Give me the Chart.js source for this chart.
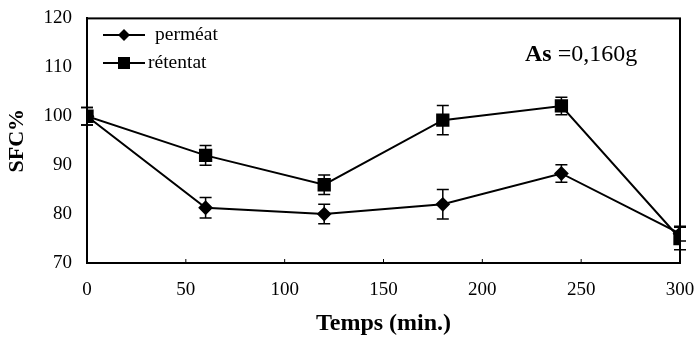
<!DOCTYPE html>
<html>
<head>
<meta charset="utf-8">
<script src="https://cdn.jsdelivr.net/npm/chart.js@4"></script>
<style>
  body { margin: 0; background: #fff; }
  #wrap { width: 696px; height: 342px; }
</style>
</head>
<body>
<div id="wrap"><canvas id="myChart"></canvas></div>
<script>
const times = [0, 60, 120, 180, 240, 300]
const permeat = [100, 81.3, 80, 82, 88.3, 76]
const permeatErr = [1.8, 2.1, 2, 3, 1.8, 1.5]
const retentat = [100, 92, 86, 99.2, 102.1, 75]
const retentatErr = [1.8, 2, 2, 3, 1.8, 2.3]
const xTicks = [0, 50, 100, 150, 200, 250, 300]

const serif = '"Liberation Serif", "DejaVu Serif", serif'

function points(xs, ys) {
  return xs.map((x, i) => ({ x: x, y: ys[i] }))
}

// error bars, frame, legend and annotation
const extras = {
  id: 'extras',
  afterDatasetsDraw(chart) {
    const ctx = chart.ctx
    const xs = chart.scales.x
    const ys = chart.scales.y
    const area = chart.chartArea
    const errs = [permeatErr, retentatErr]

    ctx.save()
    ctx.strokeStyle = '#000'
    ctx.lineWidth = 1.5
    chart.data.datasets.forEach((ds, d) => {
      ds.data.forEach((p, i) => {
        const e = errs[d][i]
        const px = xs.getPixelForValue(p.x)
        const top = ys.getPixelForValue(p.y + e)
        const bot = ys.getPixelForValue(p.y - e)
        ctx.beginPath()
        ctx.moveTo(px, top); ctx.lineTo(px, bot)
        ctx.moveTo(px - 6, top); ctx.lineTo(px + 6, top)
        ctx.moveTo(px - 6, bot); ctx.lineTo(px + 6, bot)
        ctx.stroke()
      })
    })

    // frame
    ctx.lineWidth = 2
    ctx.strokeRect(area.left, area.top, area.right - area.left, area.bottom - area.top)

    // small inner ticks on the x axis
    ctx.lineWidth = 1
    xTicks.forEach(v => {
      const px = xs.getPixelForValue(v)
      ctx.beginPath()
      ctx.moveTo(px, area.bottom); ctx.lineTo(px, area.bottom - 4)
      ctx.stroke()
    })

    // legend
    const legendItems = [
      { label: 'perméat', style: 'diamond', y: 35 },
      { label: 'rétentat', style: 'square', y: 63 }
    ]
    ctx.lineWidth = 2
    legendItems.forEach(item => {
      const x0 = area.left + 16
      const x1 = area.left + 58
      const cx = (x0 + x1) / 2
      ctx.beginPath()
      ctx.moveTo(x0, item.y); ctx.lineTo(x1, item.y)
      ctx.stroke()
      ctx.fillStyle = '#000'
      ctx.beginPath()
      if (item.style === 'diamond') {
        ctx.moveTo(cx, item.y - 6); ctx.lineTo(cx + 6, item.y)
        ctx.lineTo(cx, item.y + 6); ctx.lineTo(cx - 6, item.y)
        ctx.closePath()
      } else {
        ctx.rect(cx - 6, item.y - 6, 12, 12)
      }
      ctx.fill()
      ctx.font = '19.5px ' + serif
      ctx.textBaseline = 'middle'
      ctx.textAlign = 'left'
      ctx.fillText(item.label, x1 + (item.style === 'diamond' ? 10 : 3), item.y)
    })

    // annotation
    ctx.textBaseline = 'alphabetic'
    ctx.font = 'bold 24px ' + serif
    const ax = 525
    ctx.fillText('As', ax, 61)
    const w = ctx.measureText('As ').width
    ctx.font = '24px ' + serif
    ctx.fillText('=0,160g', ax + w, 61)
    ctx.restore()
  }
}

const config = {
  type: 'line',
  data: {
    datasets: [
      {
        label: 'perméat',
        data: points(times, permeat),
        borderColor: '#000',
        backgroundColor: '#000',
        borderWidth: 2,
        pointStyle: 'rectRot',
        pointRadius: 6,
        pointHoverRadius: 6,
        tension: 0
      },
      {
        label: 'rétentat',
        data: points(times, retentat),
        borderColor: '#000',
        backgroundColor: '#000',
        borderWidth: 2,
        pointStyle: 'rect',
        pointRadius: 8,
        pointHoverRadius: 8,
        tension: 0
      }
    ]
  },
  options: {
    responsive: true,
    maintainAspectRatio: false,
    animation: false,
    layout: { padding: { top: 17, right: 16, left: 0, bottom: 0 } },
    plugins: {
      legend: { display: false },
      tooltip: { enabled: false }
    },
    scales: {
      x: {
        type: 'linear',
        min: 0,
        max: 300,
        afterBuildTicks: axis => { axis.ticks = xTicks.map(v => ({ value: v })) },
        afterFit: axis => {
          axis.height = 79
          axis.paddingRight = 0
          axis.paddingLeft = 0
        },
        grid: { display: false, drawTicks: true, tickLength: 4, color: '#000' },
        border: { display: true, color: '#000', width: 2 },
        ticks: { color: '#000', font: { family: serif, size: 19 }, padding: 12, maxRotation: 0 },
        title: {
          display: true,
          text: 'Temps (min.)',
          color: '#000',
          font: { family: serif, size: 24, weight: 'bold' },
          padding: { top: 10 }
        }
      },
      y: {
        min: 70,
        max: 120,
        afterFit: axis => { axis.width = 87 },
        grid: { display: false, drawTicks: true, tickLength: 8, color: '#000' },
        border: { display: true, color: '#000', width: 2 },
        ticks: { stepSize: 10, color: '#000', font: { family: serif, size: 19 }, padding: 7 },
        title: {
          display: true,
          text: 'SFC%',
          color: '#000',
          font: { family: serif, size: 22, weight: 'bold' },
          padding: { top: 4, bottom: 8 }
        }
      }
    }
  },
  plugins: [extras]
}

new Chart(document.getElementById('myChart'), config)
</script>
</body>
</html>
